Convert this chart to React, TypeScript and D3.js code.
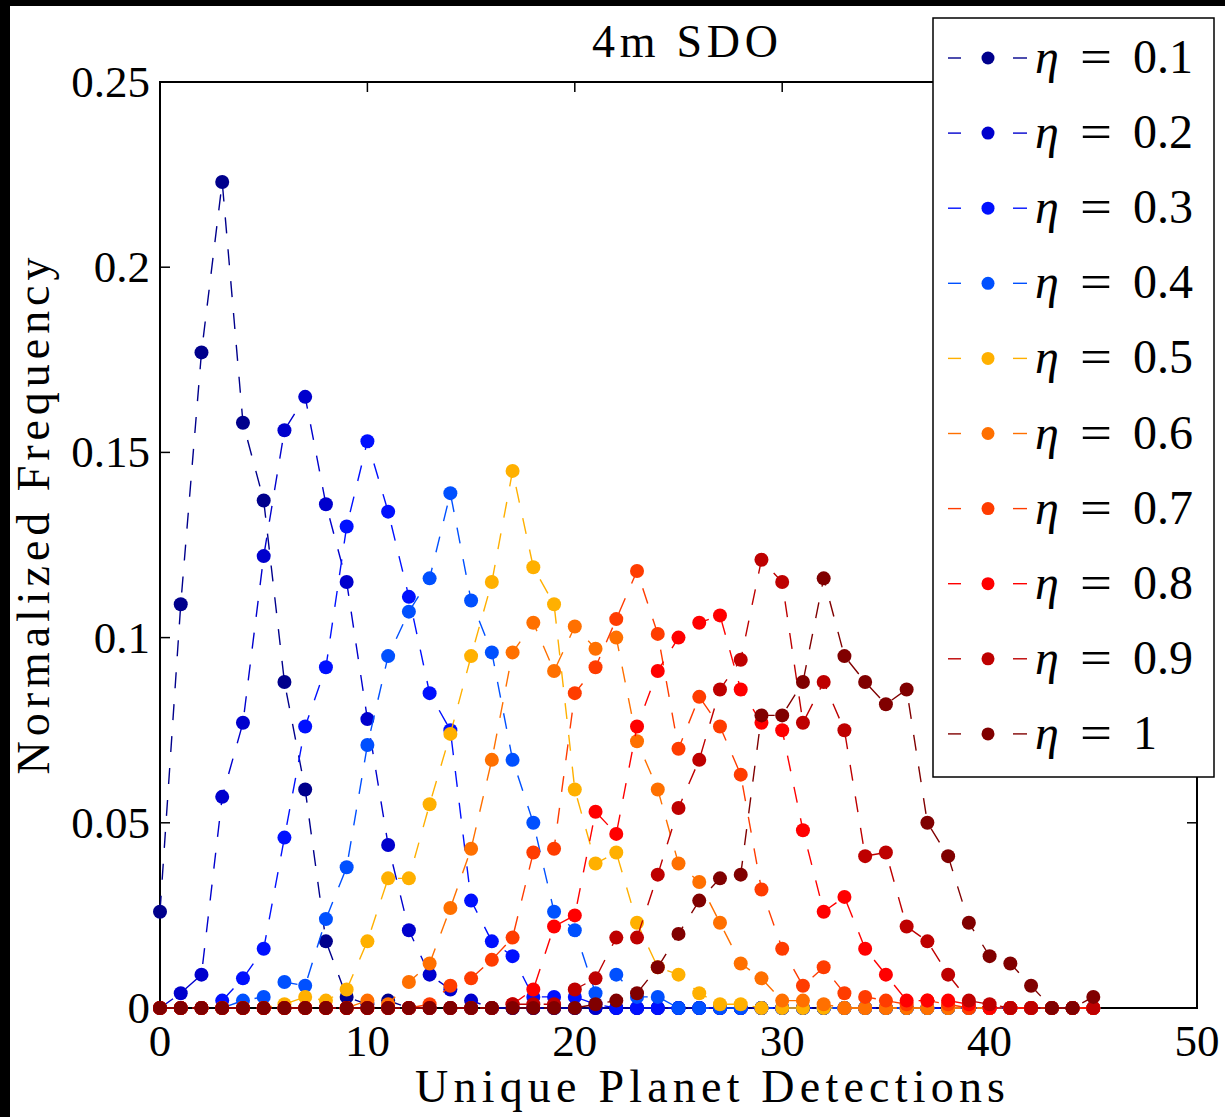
import React from "react";
import * as d3 from "d3";

// Number of unique planet detections (x positions of every series)
const DETECTIONS = [
  0, 1, 2, 3, 4, 5, 6, 7, 8, 9, 10, 11, 12, 13, 14, 15, 16, 17, 18, 19, 20, 21, 22,
  23, 24, 25, 26, 27, 28, 29, 30, 31, 32, 33, 34, 35, 36, 37, 38, 39, 40, 41, 42, 43,
  44, 45,
];

// Normalized frequency per eta value, indexed by detection count
const ETA_01 = [0.026, 0.109, 0.177, 0.223, 0.158, 0.137, 0.088, 0.059, 0.018, 0.003, 0.001, 0.002, 0, 0, 0, 0, 0, 0, 0, 0, 0, 0, 0, 0, 0, 0, 0, 0, 0, 0, 0, 0, 0, 0, 0, 0, 0, 0, 0, 0, 0, 0, 0, 0, 0, 0];
const ETA_02 = [0, 0.004, 0.009, 0.057, 0.077, 0.122, 0.156, 0.165, 0.136, 0.115, 0.078, 0.044, 0.021, 0.009, 0.005, 0.002, 0, 0, 0, 0, 0, 0, 0, 0, 0, 0, 0, 0, 0, 0, 0, 0, 0, 0, 0, 0, 0, 0, 0, 0, 0, 0, 0, 0, 0, 0];
const ETA_03 = [0, 0, 0, 0.002, 0.008, 0.016, 0.046, 0.076, 0.092, 0.13, 0.153, 0.134, 0.111, 0.085, 0.075, 0.029, 0.018, 0.014, 0.003, 0.003, 0.003, 0.001, 0, 0, 0, 0, 0, 0, 0, 0, 0, 0, 0, 0, 0, 0, 0, 0, 0, 0, 0, 0, 0, 0, 0, 0];
const ETA_04 = [0, 0, 0, 0, 0.002, 0.003, 0.007, 0.006, 0.024, 0.038, 0.071, 0.095, 0.107, 0.116, 0.139, 0.11, 0.096, 0.067, 0.05, 0.026, 0.021, 0.004, 0.009, 0.003, 0.003, 0, 0, 0, 0, 0, 0, 0, 0, 0, 0, 0, 0, 0, 0, 0, 0, 0, 0, 0, 0, 0];
const ETA_05 = [0, 0, 0, 0, 0, 0, 0.001, 0.003, 0.002, 0.005, 0.018, 0.035, 0.035, 0.055, 0.074, 0.095, 0.115, 0.145, 0.119, 0.109, 0.059, 0.039, 0.042, 0.023, 0.011, 0.009, 0.004, 0.001, 0.001, 0, 0, 0, 0, 0, 0, 0, 0, 0, 0, 0, 0, 0, 0, 0, 0, 0];
const ETA_06 = [0, 0, 0, 0, 0, 0, 0, 0, 0, 0, 0.002, 0.001, 0.007, 0.012, 0.027, 0.043, 0.067, 0.096, 0.104, 0.091, 0.103, 0.097, 0.1, 0.072, 0.059, 0.039, 0.034, 0.023, 0.012, 0.008, 0.002, 0.002, 0.001, 0, 0, 0, 0, 0, 0, 0, 0, 0, 0, 0, 0, 0];
const ETA_07 = [0, 0, 0, 0, 0, 0, 0, 0, 0, 0, 0, 0, 0, 0.001, 0.006, 0.008, 0.013, 0.019, 0.042, 0.043, 0.085, 0.092, 0.105, 0.118, 0.101, 0.07, 0.084, 0.076, 0.063, 0.032, 0.016, 0.006, 0.011, 0.004, 0.003, 0.002, 0.001, 0.002, 0.001, 0, 0, 0, 0, 0, 0, 0];
const ETA_08 = [0, 0, 0, 0, 0, 0, 0, 0, 0, 0, 0, 0, 0, 0, 0, 0, 0, 0.001, 0.005, 0.022, 0.025, 0.053, 0.047, 0.076, 0.091, 0.1, 0.104, 0.106, 0.086, 0.077, 0.075, 0.048, 0.026, 0.03, 0.016, 0.009, 0.002, 0.002, 0.002, 0.001, 0, 0, 0, 0, 0, 0];
const ETA_09 = [0, 0, 0, 0, 0, 0, 0, 0, 0, 0, 0, 0, 0, 0, 0, 0, 0, 0.001, 0.001, 0.001, 0.005, 0.008, 0.019, 0.019, 0.036, 0.054, 0.067, 0.086, 0.094, 0.121, 0.115, 0.077, 0.088, 0.075, 0.041, 0.042, 0.022, 0.018, 0.009, 0.002, 0.001, 0, 0, 0, 0, 0];
const ETA_10 = [0, 0, 0, 0, 0, 0, 0, 0, 0, 0, 0, 0, 0, 0, 0, 0, 0, 0, 0, 0, 0, 0.001, 0.002, 0.004, 0.011, 0.02, 0.029, 0.035, 0.036, 0.079, 0.079, 0.088, 0.116, 0.095, 0.088, 0.082, 0.086, 0.05, 0.041, 0.023, 0.014, 0.012, 0.006, 0, 0, 0.003];

const SERIES_LABELS = ["0.1", "0.2", "0.3", "0.4", "0.5", "0.6", "0.7", "0.8", "0.9", "1"];
const SERIES_VALUES = [ETA_01, ETA_02, ETA_03, ETA_04, ETA_05, ETA_06, ETA_07, ETA_08, ETA_09, ETA_10];
const SERIES_COLORS = [
  "#00008c", "#0000cd", "#0010ff", "#0050ff", "#ffb000",
  "#ff7000", "#ff3c00", "#ff0000", "#be0000", "#800000",
];

const X_TICKS = [0, 10, 20, 30, 40, 50];
const Y_TICKS = [0, 0.05, 0.1, 0.15, 0.2, 0.25];
const Y_TICK_LABELS = ["0", "0.05", "0.1", "0.15", "0.2", "0.25"];

const W = 1225;
const H = 1117;
const FONT = "'Liberation Serif', 'Times New Roman', serif";

export default function App() {
  const left = 160, right = 1197, top = 82, bottom = 1008;
  const x = d3.scaleLinear().domain([0, 50]).range([left, right]);
  const y = d3.scaleLinear().domain([0, 0.25]).range([bottom, top]);

  const line = d3
    .line<number>()
    .x((_, i) => x(DETECTIONS[i]))
    .y((d) => y(d));

  const tickLen = 10;
  const legend = { x: 933, y: 18, w: 281, h: 759, row0: 58, step: 75.1 };

  return (
    <svg
      width={W}
      height={H}
      viewBox={`0 0 ${W} ${H}`}
      style={{ position: "absolute", left: 0, top: 0, background: "#fff" }}
    >
      <rect x={0} y={0} width={W} height={H} fill="#fff" />

      {/* axes frame */}
      <rect
        x={left}
        y={top}
        width={right - left}
        height={bottom - top}
        fill="none"
        stroke="#000"
        strokeWidth={2}
      />
      {X_TICKS.map((t) => (
        <g key={"xt" + t}>
          <line x1={x(t)} x2={x(t)} y1={bottom} y2={bottom - tickLen} stroke="#000" strokeWidth={1.5} />
          <line x1={x(t)} x2={x(t)} y1={top} y2={top + tickLen} stroke="#000" strokeWidth={1.5} />
          <text
            x={x(t)}
            y={1056}
            textAnchor="middle"
            fontFamily={FONT}
            fontSize={45}
            fill="#000"
          >
            {t}
          </text>
        </g>
      ))}
      {Y_TICKS.map((t, i) => (
        <g key={"yt" + t}>
          <line x1={left} x2={left + tickLen} y1={y(t)} y2={y(t)} stroke="#000" strokeWidth={1.5} />
          <line x1={right} x2={right - tickLen} y1={y(t)} y2={y(t)} stroke="#000" strokeWidth={1.5} />
          <text
            x={150}
            y={y(t) + 15}
            textAnchor="end"
            fontFamily={FONT}
            fontSize={45}
            fill="#000"
          >
            {Y_TICK_LABELS[i]}
          </text>
        </g>
      ))}

      {/* data series, drawn from lowest to highest eta */}
      {SERIES_VALUES.map((vals, si) => (
        <g key={"s" + si}>
          <path
            d={line(vals) || ""}
            fill="none"
            stroke={SERIES_COLORS[si]}
            strokeWidth={1.4}
            strokeDasharray="16 16"
          />
          {vals.map((v, i) => (
            <circle
              key={i}
              cx={x(DETECTIONS[i])}
              cy={y(v)}
              r={7}
              fill={SERIES_COLORS[si]}
            />
          ))}
        </g>
      ))}

      {/* titles */}
      <text
        x={685}
        y={57}
        textAnchor="middle"
        fontFamily={FONT}
        fontSize={46}
        textLength={186}
        lengthAdjust="spacing"
        fill="#000"
      >
        4m SDO
      </text>
      <text
        x={710}
        y={1102}
        textAnchor="middle"
        fontFamily={FONT}
        fontSize={46}
        textLength={590}
        lengthAdjust="spacing"
        fill="#000"
      >
        Unique Planet Detections
      </text>
      <text
        transform="translate(49,516) rotate(-90)"
        textAnchor="middle"
        fontFamily={FONT}
        fontSize={46}
        textLength={517}
        lengthAdjust="spacing"
        fill="#000"
      >
        Normalized Frequency
      </text>

      {/* legend */}
      <rect
        x={legend.x}
        y={legend.y}
        width={legend.w}
        height={legend.h}
        fill="#fff"
        stroke="#000"
        strokeWidth={1.5}
      />
      {SERIES_LABELS.map((lab, i) => {
        const cy = legend.row0 + i * legend.step;
        const c = SERIES_COLORS[i];
        return (
          <g key={"lg" + i}>
            <line x1={948} x2={961} y1={cy} y2={cy} stroke={c} strokeWidth={1.4} />
            <line x1={1013} x2={1027} y1={cy} y2={cy} stroke={c} strokeWidth={1.4} />
            <circle cx={988} cy={cy} r={6.5} fill={c} />
            <text x={1035} y={cy + 15} fontFamily={FONT} fontSize={48} fontStyle="italic" fill="#000">
              η
            </text>
            <text x={1080} y={cy + 15} fontFamily={FONT} fontSize={48} textLength={32} lengthAdjust="spacingAndGlyphs" fill="#000">
              =
            </text>
            <text x={1133} y={cy + 15} fontFamily={FONT} fontSize={48} fill="#000">
              {lab}
            </text>
          </g>
        );
      })}

      {/* dark edges of the figure */}
      <rect x={0} y={0} width={W} height={6} fill="#000" />
      <rect x={0} y={0} width={10} height={H} fill="#000" />
    </svg>
  );
}
